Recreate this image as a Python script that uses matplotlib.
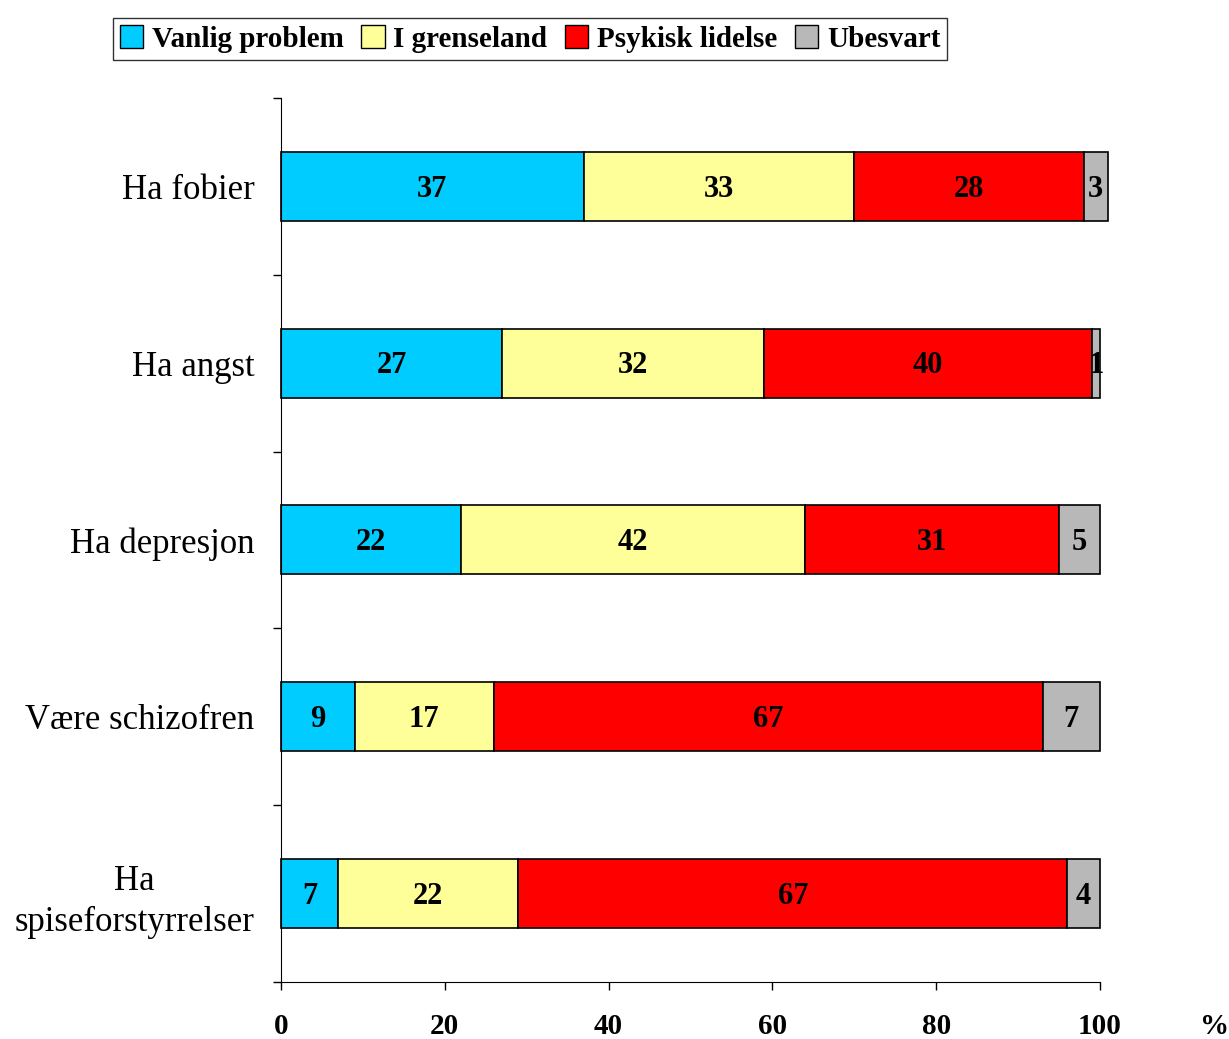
import numpy as np
import matplotlib
matplotlib.use("Agg")
import matplotlib.pyplot as plt
from matplotlib.patches import Patch

# Data
kategorier = ['Ha fobier', 'Ha angst', 'Ha depresjon', 'Være schizofren', 'Ha\nspiseforstyrrelser']
vanlig = [37, 27, 22, 9, 7]
grense = [33, 32, 42, 17, 22]
psykisk = [28, 40, 31, 67, 67]
ubesvart = [3, 1, 5, 7, 4]

serier = ['Vanlig problem', 'I grenseland', 'Psykisk lidelse', 'Ubesvart']
farger = ['#00CCFF', '#FFFF99', '#FF0000', '#B8B8B8']
x_ticks = [0, 20, 40, 60, 80, 100]

plt.rcParams['font.family'] = ['Liberation Serif', 'DejaVu Serif']

fig = plt.figure(figsize=(12.29, 10.39), dpi=100)
ax = fig.add_axes([0.2286, 0.0549, 0.6664, 0.8508])

y = np.arange(len(kategorier))
venstre = np.zeros(len(kategorier))
for verdier, farge in zip([vanlig, grense, psykisk, ubesvart], farger):
    bars = ax.barh(y, verdier, left=venstre, height=0.39, color=farge,
                   edgecolor='black', linewidth=1.2)
    for b, v, l in zip(bars, verdier, venstre):
        b.set_clip_on(False)
        ax.text(l + v / 2, b.get_y() + b.get_height() / 2 + 0.015, str(v),
                ha='center', va='center', fontsize=22, fontweight='bold',
                clip_on=False)
    venstre = venstre + np.array(verdier)

ax.set_xlim(0, 100)
ax.set_ylim(len(kategorier) - 0.5, -0.5)

# y-akse: streker mellom kategoriene, etiketter i midten
ax.set_yticks(np.arange(-0.5, len(kategorier), 1.0))
ax.set_yticklabels([])
ax.set_yticks(y, minor=True)
ax.set_yticklabels(kategorier, minor=True, fontsize=25, multialignment='center',
                   linespacing=1.35)
ax.tick_params(axis='y', which='major', length=6, width=1, direction='out')
ax.tick_params(axis='y', which='minor', length=0, pad=19)

ax.set_xticks(x_ticks)
ax.set_xticklabels([str(t) for t in x_ticks], fontsize=21, fontweight='bold')
ax.tick_params(axis='x', length=6, width=1, direction='out', pad=16)

ax.spines['top'].set_visible(False)
ax.spines['right'].set_visible(False)

fig.text(1200 / 1229, 1 - 1027 / 1039, '%', fontsize=21, fontweight='bold',
         ha='left', va='center')

handles = [Patch(facecolor=f, edgecolor='black', linewidth=1) for f in farger]
leg = fig.legend(handles, serier, loc='center', bbox_to_anchor=(530 / 1229, 1 - 39 / 1039),
                 ncol=4, frameon=True, fancybox=False, edgecolor='black',
                 prop={'size': 21, 'weight': 'bold'}, handlelength=0.8,
                 handleheight=0.8, handletextpad=0.3, columnspacing=0.6,
                 borderpad=0.25, borderaxespad=0)
leg.get_frame().set_linewidth(1)

plt.savefig('out.png', dpi=100)
